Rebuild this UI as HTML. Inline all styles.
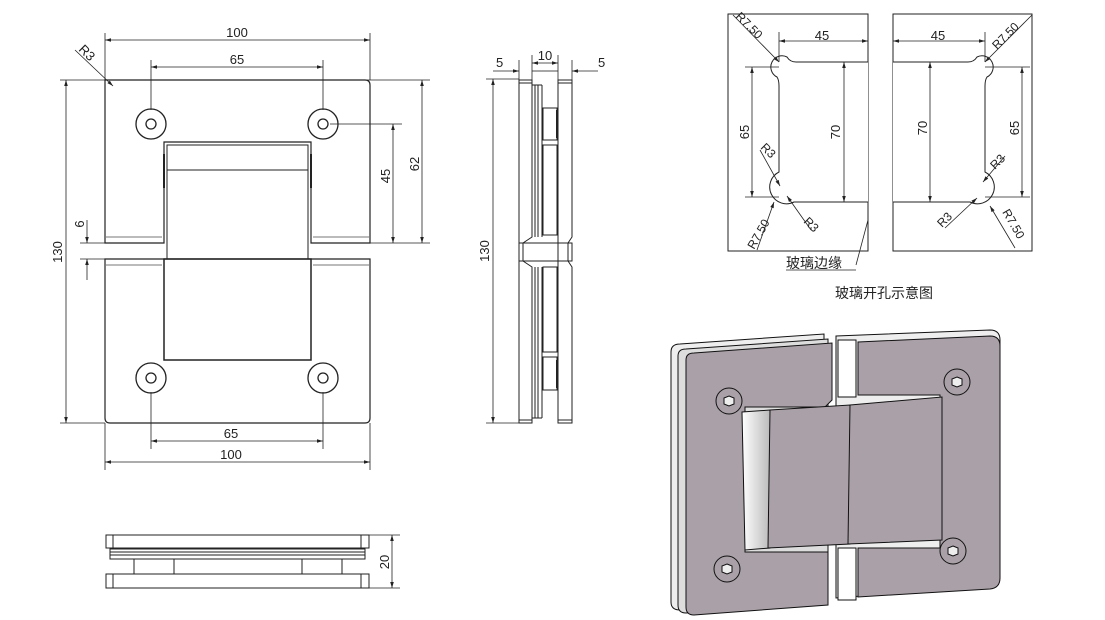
<!DOCTYPE html>
<html><head><meta charset="utf-8"><style>
html,body{margin:0;padding:0;background:#fff;}
svg{display:block;}
text{font-family:"Liberation Sans","Noto Sans CJK SC",sans-serif;fill:#222;}
</style></head><body>
<svg width="1105" height="620" viewBox="0 0 1105 620" xmlns="http://www.w3.org/2000/svg">
<defs>
<marker id="a" viewBox="0 0 10 10" refX="10" refY="5" markerWidth="10" markerHeight="6" orient="auto-start-reverse" markerUnits="userSpaceOnUse"><path d="M0,2 L10,5 L0,8z" fill="#222"/></marker>
<linearGradient id="g" x1="0" x2="1"><stop offset="0" stop-color="#fff"/><stop offset="1" stop-color="#bbb"/></linearGradient>
</defs>
<g fill="none" stroke="#222" stroke-width="1">
<!-- FRONT VIEW -->
<path d="M105,243 V80 H365 Q370,80 370,85 V243 H311 V142 H164 V243 Z" stroke-width="1.2"/>
<path d="M105,259 H370 V418 Q370,423 365,423 H110 Q105,423 105,418 Z" stroke-width="1.2"/>
<line x1="105" y1="237" x2="162" y2="237" stroke="#777"/><line x1="313" y1="237" x2="370" y2="237" stroke="#777"/>
<line x1="105" y1="265" x2="162" y2="265" stroke="#777"/><line x1="313" y1="265" x2="370" y2="265" stroke="#777"/>
<rect x="167" y="145" width="141" height="114"/>
<line x1="167" y1="170" x2="308" y2="170"/>
<line x1="174" y1="145" x2="300" y2="145"/>
<rect x="164" y="259" width="147" height="101" stroke-width="1.5"/>
<line x1="164" y1="154" x2="164" y2="188" stroke-width="2"/><line x1="311" y1="154" x2="311" y2="188" stroke-width="2"/>
<g stroke-width="1.3">
<circle cx="151" cy="124" r="15"/><circle cx="151" cy="124" r="5"/>
<circle cx="323" cy="124" r="15"/><circle cx="323" cy="124" r="5"/>
<circle cx="151" cy="378" r="15"/><circle cx="151" cy="378" r="5"/>
<circle cx="323" cy="378" r="15"/><circle cx="323" cy="378" r="5"/>
</g>
<g stroke-width="0.8">
<line x1="105" y1="80" x2="105" y2="33"/><line x1="370" y1="80" x2="370" y2="33"/>
<line x1="105" y1="40" x2="370" y2="40" marker-start="url(#a)" marker-end="url(#a)"/>
<line x1="151" y1="110" x2="151" y2="60"/><line x1="323" y1="110" x2="323" y2="60"/>
<line x1="151" y1="67" x2="323" y2="67" marker-start="url(#a)" marker-end="url(#a)"/>
<line x1="60" y1="80" x2="430" y2="80"/><line x1="60" y1="423" x2="105" y2="423"/>
<line x1="66" y1="80" x2="66" y2="423" marker-start="url(#a)" marker-end="url(#a)"/>
<line x1="330" y1="124" x2="402" y2="124"/><line x1="370" y1="243" x2="430" y2="243"/>
<line x1="393" y1="124" x2="393" y2="243" marker-start="url(#a)" marker-end="url(#a)"/>
<line x1="422" y1="80" x2="422" y2="243" marker-start="url(#a)" marker-end="url(#a)"/>
<line x1="80" y1="243" x2="105" y2="243"/><line x1="80" y1="259" x2="105" y2="259"/>
<line x1="87" y1="220" x2="87" y2="243" marker-end="url(#a)"/><line x1="87" y1="280" x2="87" y2="259" marker-end="url(#a)"/>
<line x1="75" y1="50" x2="113" y2="86" marker-end="url(#a)"/>
<line x1="151" y1="392" x2="151" y2="449"/><line x1="323" y1="392" x2="323" y2="449"/>
<line x1="151" y1="441" x2="323" y2="441" marker-start="url(#a)" marker-end="url(#a)"/>
<line x1="105" y1="423" x2="105" y2="470"/><line x1="370" y1="423" x2="370" y2="470"/>
<line x1="105" y1="462" x2="370" y2="462" marker-start="url(#a)" marker-end="url(#a)"/>
</g>
<!-- SIDE VIEW -->
<path d="M519,80 H532 V237 L523,243 V261 L532,267 V423 H519 V267 L519,261 V243 L519,237 Z" stroke-width="1"/>
<path d="M558,80 H572 V237 L568,243 V261 L572,267 V423 H558 Z"/>
<rect x="519" y="243" width="53" height="18"/>
<line x1="519" y1="83" x2="532" y2="83"/><line x1="558" y1="83" x2="572" y2="83"/>
<line x1="519" y1="420" x2="532" y2="420"/><line x1="558" y1="420" x2="572" y2="420"/>
<line x1="532" y1="85" x2="542" y2="85"/><line x1="532" y1="418" x2="542" y2="418"/>
<line x1="535" y1="85" x2="535" y2="237"/><line x1="538" y1="85" x2="538" y2="237"/><line x1="542" y1="85" x2="542" y2="237"/>
<line x1="535" y1="267" x2="535" y2="418"/><line x1="538" y1="267" x2="538" y2="418"/><line x1="542" y1="267" x2="542" y2="418"/>
<rect x="543" y="108" width="14" height="32"/><rect x="543" y="145" width="14" height="90"/>
<rect x="543" y="267" width="14" height="85"/><rect x="543" y="357" width="14" height="33"/>
<line x1="557" y1="110" x2="557" y2="138" stroke-width="2"/><line x1="557" y1="360" x2="557" y2="388" stroke-width="2"/>
<g stroke-width="0.8">
<line x1="519" y1="60" x2="519" y2="80"/><line x1="532" y1="55" x2="532" y2="80"/><line x1="558" y1="55" x2="558" y2="80"/><line x1="572" y1="60" x2="572" y2="80"/>
<line x1="493" y1="71" x2="519" y2="71" marker-end="url(#a)"/><line x1="532" y1="71" x2="545" y2="71"/>
<line x1="532" y1="63" x2="558" y2="63" marker-start="url(#a)" marker-end="url(#a)"/>
<line x1="598" y1="71" x2="572" y2="71" marker-end="url(#a)"/><line x1="545" y1="71" x2="558" y2="71"/>
<line x1="486" y1="79" x2="519" y2="79"/><line x1="486" y1="423" x2="519" y2="423"/>
<line x1="493" y1="79" x2="493" y2="423" marker-start="url(#a)" marker-end="url(#a)"/>
</g>
<!-- BOTTOM VIEW -->
<rect x="106" y="535" width="263" height="13"/>
<line x1="113" y1="535" x2="113" y2="548"/><line x1="361" y1="535" x2="361" y2="548"/>
<rect x="110" y="549" width="255" height="10"/>
<line x1="110" y1="552" x2="365" y2="552"/><line x1="110" y1="555" x2="365" y2="555"/>
<rect x="134" y="559" width="40" height="15"/><rect x="174" y="559" width="128" height="15"/><rect x="302" y="559" width="40" height="15"/>
<rect x="106" y="574" width="263" height="14"/>
<line x1="113" y1="574" x2="113" y2="588"/><line x1="361" y1="574" x2="361" y2="588"/>
<line x1="369" y1="535" x2="400" y2="535" stroke-width="0.8"/><line x1="369" y1="588" x2="400" y2="588" stroke-width="0.8"/>
<line x1="392" y1="535" x2="392" y2="588" stroke-width="0.8" marker-start="url(#a)" marker-end="url(#a)"/>
<!-- CUTOUT -->
<rect x="728" y="14" width="140" height="237"/>
<rect x="893" y="14" width="139" height="237"/>
<path d="M868,62 H796 Q790,62 787,57 A8,8 0 1 0 777,77 Q779,80 779,86 V172 A9,9 0 1 0 794,202 H868" fill="#fff"/>
<path d="M893,62 H968 Q974,62 977,57 A8,8 0 1 1 987,77 Q985,80 985,86 V172 A9,9 0 1 1 970,202 H893" fill="#fff"/>
<g stroke-width="0.8">
<line x1="779" y1="32" x2="779" y2="62"/><line x1="779" y1="41" x2="868" y2="41" marker-start="url(#a)" marker-end="url(#a)"/>
<line x1="745" y1="67" x2="779" y2="67"/><line x1="745" y1="197" x2="779" y2="197"/>
<line x1="752" y1="67" x2="752" y2="197" marker-start="url(#a)" marker-end="url(#a)"/>
<line x1="844" y1="62" x2="844" y2="202" marker-start="url(#a)" marker-end="url(#a)"/>
<line x1="733" y1="15" x2="779" y2="62" marker-end="url(#a)"/>
<line x1="760" y1="150" x2="780" y2="186" marker-end="url(#a)"/>
<line x1="811" y1="230" x2="787" y2="196" marker-end="url(#a)"/>
<line x1="757" y1="250" x2="774" y2="202" marker-end="url(#a)"/>
<line x1="868" y1="220" x2="856" y2="265"/><line x1="786" y1="270" x2="856" y2="270"/>
<line x1="985" y1="32" x2="985" y2="62"/><line x1="893" y1="41" x2="985" y2="41" marker-start="url(#a)" marker-end="url(#a)"/>
<line x1="985" y1="67" x2="1030" y2="67"/><line x1="985" y1="197" x2="1030" y2="197"/>
<line x1="1022" y1="67" x2="1022" y2="197" marker-start="url(#a)" marker-end="url(#a)"/>
<line x1="930" y1="62" x2="930" y2="202" marker-start="url(#a)" marker-end="url(#a)"/>
<line x1="1032" y1="15" x2="985" y2="62" marker-end="url(#a)"/>
<line x1="1005" y1="156" x2="983" y2="182" marker-end="url(#a)"/>
<line x1="945" y1="228" x2="977" y2="198" marker-end="url(#a)"/>
<line x1="1015" y1="248" x2="990" y2="206" marker-end="url(#a)"/>
</g>
<!-- 3D RENDER -->
<g stroke="#111" stroke-width="1">
<path d="M671,352 Q671,344 680,344 L824,334 V602 L680,610 Q671,610 671,602Z" fill="#eee"/>
<path d="M678,356 Q678,349 686,349 L828,339 V604 L686,613 Q678,613 678,605Z" fill="#ddd"/>
<path d="M686,360 Q686,353 694,353 L832,343 V400 H832 L825,407 H745 V552 H828 V605 L694,615 Q686,615 686,607Z" fill="#aaa1a8"/>
<path d="M836,336 L990,330 Q1000,330 1000,340 V575 Q1000,585 990,586 L836,598Z" fill="#eee"/>
<path d="M858,342 L990,336 Q1000,336 1000,346 V578 Q1000,588 990,589 L858,597 V548 H940 V395 H858Z" fill="#aaa1a8"/>
<path d="M838,340 H856 V397 H838Z" fill="#fff"/>
<path d="M838,548 H856 V600 H838Z" fill="#fff"/>
<path d="M742,412 L770,410 V548 L745,550Z" fill="url(#g)"/>
<path d="M770,410 L850,405 V544 L768,548Z" fill="#aaa1a8"/>
<path d="M850,405 L942,397 V540 L848,544Z" fill="#aaa1a8"/>
<g fill="none">
<circle cx="729" cy="401" r="13"/><circle cx="957" cy="382" r="13"/>
<circle cx="727" cy="569" r="13"/><circle cx="953" cy="551" r="13"/>
</g>
<g fill="#eee">
<polygon points="729,396 734,398 734,404 729,406 724,404 724,398"/>
<polygon points="957,377 962,379 962,385 957,387 952,385 952,379"/>
<polygon points="727,564 732,566 732,572 727,574 722,572 722,566"/>
<polygon points="953,546 958,548 958,554 953,556 948,554 948,548"/>
</g>
</g>
</g>
<!-- TEXT -->
<g font-size="13">
<text x="237" y="37" text-anchor="middle">100</text>
<text x="237" y="64" text-anchor="middle">65</text>
<text x="231" y="438" text-anchor="middle">65</text>
<text x="231" y="459" text-anchor="middle">100</text>
<text transform="translate(62,252) rotate(-90)" text-anchor="middle">130</text>
<text transform="translate(390,176) rotate(-90)" text-anchor="middle">45</text>
<text transform="translate(419,164) rotate(-90)" text-anchor="middle">62</text>
<text transform="translate(84,224) rotate(-90)" text-anchor="middle">6</text>
<text transform="translate(78,50) rotate(45)">R3</text>
<text x="496" y="67">5</text>
<text x="545" y="60" text-anchor="middle">10</text>
<text x="598" y="67">5</text>
<text transform="translate(489,251) rotate(-90)" text-anchor="middle">130</text>
<text transform="translate(389,562) rotate(-90)" text-anchor="middle">20</text>
<text x="822" y="40" text-anchor="middle">45</text>
<text x="938" y="40" text-anchor="middle">45</text>
<text transform="translate(749,132) rotate(-90)" text-anchor="middle">65</text>
<text transform="translate(840,132) rotate(-90)" text-anchor="middle">70</text>
<text transform="translate(927,128) rotate(-90)" text-anchor="middle">70</text>
<text transform="translate(1019,128) rotate(-90)" text-anchor="middle">65</text>
<text transform="translate(735,17) rotate(45)" font-size="12">R7.50</text>
<text transform="translate(760,148) rotate(45)" font-size="12">R3</text>
<text transform="translate(803,222) rotate(45)" font-size="12">R3</text>
<text transform="translate(754,250) rotate(-60)" font-size="12">R7.50</text>
<text transform="translate(997,50) rotate(-45)" font-size="12">R7.50</text>
<text transform="translate(995,170) rotate(-45)" font-size="12">R3</text>
<text transform="translate(942,228) rotate(-45)" font-size="12">R3</text>
<text transform="translate(1002,212) rotate(60)" font-size="12">R7.50</text>
<text x="786" y="268" font-size="14">玻璃边缘</text>
<text x="835" y="298" font-size="14">玻璃开孔示意图</text>
</g>
</svg>
</body></html>
